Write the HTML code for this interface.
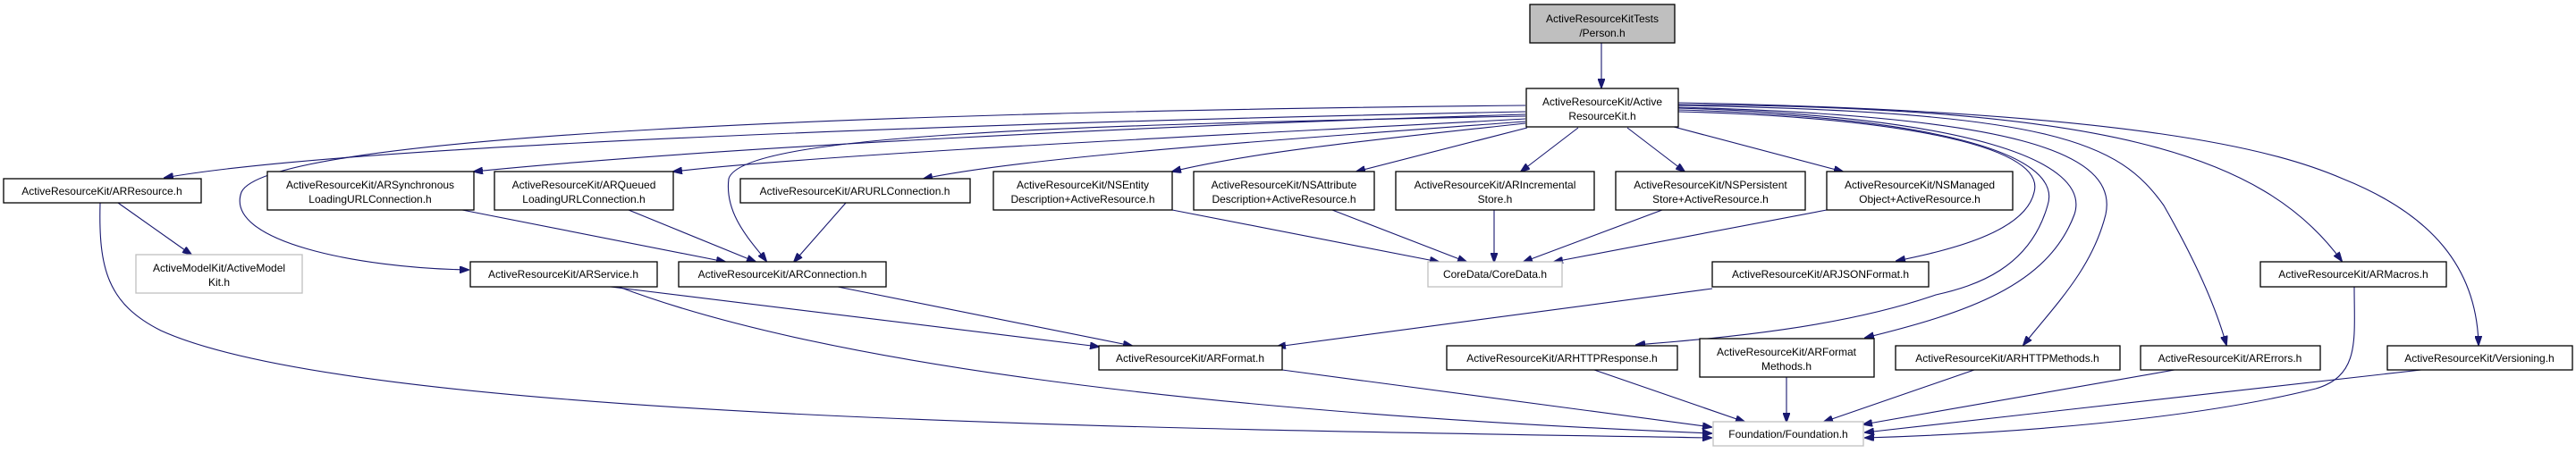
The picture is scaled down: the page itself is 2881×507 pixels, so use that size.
<!DOCTYPE html>
<html><head><meta charset="utf-8"><style>
html,body{margin:0;padding:0;background:#fff;}
svg{display:block;}
text{font-family:"Liberation Sans",Arial,sans-serif;font-size:12px;fill:#000;text-anchor:middle;}
.b{fill:#fff;stroke:#000;stroke-width:1.3;}
.g{fill:#fff;stroke:#bfbfbf;stroke-width:1.3;}
.e{fill:none;stroke:#191970;stroke-width:1.1;}
</style></head><body>
<svg width="2881" height="507" viewBox="0 0 2881 507" xmlns="http://www.w3.org/2000/svg">
<defs>
<marker id="a" markerWidth="11" markerHeight="8" refX="10" refY="4" orient="auto" markerUnits="userSpaceOnUse">
<path d="M0,0 L11,4 L0,8 z" fill="#191970" stroke="#191970"/>
</marker>
</defs>
<g class="edges">
<path class="e" marker-end="url(#a)" d="M1791,48 L1791,98"/>
<path class="e" marker-end="url(#a)" d="M1706,125 C1200,135 400,160 184,199"/>
<path class="e" marker-end="url(#a)" d="M1706,118 C1000,125 300,150 270,215 C250,270 400,300 524,302"/>
<path class="e" marker-end="url(#a)" d="M1706,130 C1200,140 830,150 815,200 C810,240 840,270 857,292"/>
<path class="e" marker-end="url(#a)" d="M1706,128 C1300,140 800,165 530,192"/>
<path class="e" marker-end="url(#a)" d="M1706,133 C1400,150 950,170 753,192"/>
<path class="e" marker-end="url(#a)" d="M1706,136 C1450,155 1150,175 1033,200"/>
<path class="e" marker-end="url(#a)" d="M1706,138 C1550,155 1400,170 1311,192"/>
<path class="e" marker-end="url(#a)" d="M1708,143 L1517,192"/>
<path class="e" marker-end="url(#a)" d="M1765,143 L1701,192"/>
<path class="e" marker-end="url(#a)" d="M1820,143 L1884,192"/>
<path class="e" marker-end="url(#a)" d="M1872,142 L2061,192"/>
<path class="e" marker-end="url(#a)" d="M1876,125 C2100,130 2290,160 2275,215 C2265,260 2180,280 2121,292"/>
<path class="e" marker-end="url(#a)" d="M1876,123 C2150,130 2310,170 2290,230 C2270,300 2210,320 2165,330 C2050,370 1900,380 1830,386"/>
<path class="e" marker-end="url(#a)" d="M1876,121 C2200,130 2340,180 2320,240 C2290,320 2200,350 2086,378"/>
<path class="e" marker-end="url(#a)" d="M1876,120 C2250,130 2370,170 2355,240 C2340,300 2300,340 2263,386"/>
<path class="e" marker-end="url(#a)" d="M1876,118 C2300,125 2370,160 2420,230 C2460,300 2480,350 2490,386"/>
<path class="e" marker-end="url(#a)" d="M1876,117 C2350,120 2530,170 2619,292"/>
<path class="e" marker-end="url(#a)" d="M1876,115 C2400,125 2550,170 2620,200 C2720,240 2770,300 2772,386"/>
<path class="e" marker-end="url(#a)" d="M132,227 L214,285"/>
<path class="e" marker-end="url(#a)" d="M112,227 C110,300 120,340 180,370 C400,470 1300,480 1914,490"/>
<path class="e" marker-end="url(#a)" d="M517,235 L811,293"/>
<path class="e" marker-end="url(#a)" d="M703,235 L845,293"/>
<path class="e" marker-end="url(#a)" d="M946,227 L888,293"/>
<path class="e" marker-end="url(#a)" d="M1311,235 L1609,293"/>
<path class="e" marker-end="url(#a)" d="M1490,235 L1640,293"/>
<path class="e" marker-end="url(#a)" d="M1671,235 L1671,293"/>
<path class="e" marker-end="url(#a)" d="M1859,235 L1704,293"/>
<path class="e" marker-end="url(#a)" d="M2043,235 L1738,293"/>
<path class="e" marker-end="url(#a)" d="M683,321 L1229,388"/>
<path class="e" marker-end="url(#a)" d="M692,321 C900,400 1300,460 1914,485"/>
<path class="e" marker-end="url(#a)" d="M937,321 L1266,387"/>
<path class="e" marker-end="url(#a)" d="M1915,323 L1428,388"/>
<path class="e" marker-end="url(#a)" d="M1434,414 L1914,478"/>
<path class="e" marker-end="url(#a)" d="M1783,414 L1951,472"/>
<path class="e" marker-end="url(#a)" d="M1998,422 L1998,472"/>
<path class="e" marker-end="url(#a)" d="M2208,414 L2040,472"/>
<path class="e" marker-end="url(#a)" d="M2432,414 L2084,475"/>
<path class="e" marker-end="url(#a)" d="M2633,321 C2633,380 2640,420 2590,435 C2450,470 2250,485 2086,490"/>
<path class="e" marker-end="url(#a)" d="M2708,414 L2086,484"/>
</g>
<g class="nodes">
<rect x="1711" y="5" width="162" height="43" fill="#bfbfbf" stroke="#000" stroke-width="1.3"/>
<text x="1792" y="25">ActiveResourceKitTests</text><text x="1792" y="41">/Person.h</text>

<rect class="b" x="1707" y="99" width="170" height="43"/>
<text x="1792" y="118">ActiveResourceKit/Active</text><text x="1792" y="134">ResourceKit.h</text>

<rect class="b" x="4" y="200" width="221" height="27"/>
<text x="114" y="218">ActiveResourceKit/ARResource.h</text>

<rect class="b" x="299" y="192" width="231" height="43"/>
<text x="414" y="211">ActiveResourceKit/ARSynchronous</text><text x="414" y="227">LoadingURLConnection.h</text>

<rect class="b" x="553" y="192" width="200" height="43"/>
<text x="653" y="211">ActiveResourceKit/ARQueued</text><text x="653" y="227">LoadingURLConnection.h</text>

<rect class="b" x="828" y="200" width="257" height="27"/>
<text x="956" y="218">ActiveResourceKit/ARURLConnection.h</text>

<rect class="b" x="1111" y="192" width="200" height="43"/>
<text x="1211" y="211">ActiveResourceKit/NSEntity</text><text x="1211" y="227">Description+ActiveResource.h</text>

<rect class="b" x="1335" y="192" width="202" height="43"/>
<text x="1436" y="211">ActiveResourceKit/NSAttribute</text><text x="1436" y="227">Description+ActiveResource.h</text>

<rect class="b" x="1561" y="192" width="222" height="43"/>
<text x="1672" y="211">ActiveResourceKit/ARIncremental</text><text x="1672" y="227">Store.h</text>

<rect class="b" x="1807" y="192" width="212" height="43"/>
<text x="1913" y="211">ActiveResourceKit/NSPersistent</text><text x="1913" y="227">Store+ActiveResource.h</text>

<rect class="b" x="2043" y="192" width="208" height="43"/>
<text x="2147" y="211">ActiveResourceKit/NSManaged</text><text x="2147" y="227">Object+ActiveResource.h</text>

<rect class="g" x="152" y="285" width="186" height="43"/>
<text x="245" y="304" style="fill:#000">ActiveModelKit/ActiveModel</text><text x="245" y="320">Kit.h</text>

<rect class="b" x="526" y="293" width="209" height="28"/>
<text x="630" y="311">ActiveResourceKit/ARService.h</text>

<rect class="b" x="759" y="293" width="232" height="28"/>
<text x="875" y="311">ActiveResourceKit/ARConnection.h</text>

<rect class="g" x="1597" y="293" width="150" height="28"/>
<text x="1672" y="311">CoreData/CoreData.h</text>

<rect class="b" x="1915" y="293" width="242" height="28"/>
<text x="2036" y="311">ActiveResourceKit/ARJSONFormat.h</text>

<rect class="b" x="2528" y="293" width="208" height="28"/>
<text x="2632" y="311">ActiveResourceKit/ARMacros.h</text>

<rect class="b" x="1229" y="387" width="205" height="27"/>
<text x="1331" y="405">ActiveResourceKit/ARFormat.h</text>

<rect class="b" x="1618" y="387" width="258" height="27"/>
<text x="1747" y="405">ActiveResourceKit/ARHTTPResponse.h</text>

<rect class="b" x="1901" y="379" width="195" height="43"/>
<text x="1998" y="398">ActiveResourceKit/ARFormat</text><text x="1998" y="414">Methods.h</text>

<rect class="b" x="2120" y="387" width="251" height="27"/>
<text x="2245" y="405">ActiveResourceKit/ARHTTPMethods.h</text>

<rect class="b" x="2394" y="387" width="201" height="27"/>
<text x="2494" y="405">ActiveResourceKit/ARErrors.h</text>

<rect class="b" x="2670" y="387" width="207" height="27"/>
<text x="2773" y="405">ActiveResourceKit/Versioning.h</text>

<rect class="g" x="1916" y="472" width="168" height="27"/>
<text x="2000" y="490">Foundation/Foundation.h</text>
</g>
</svg>
</body></html>
